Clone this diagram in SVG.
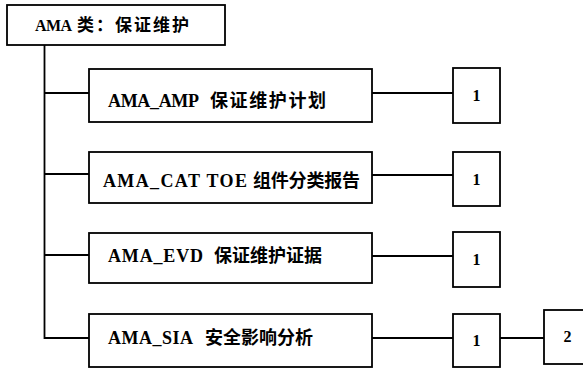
<svg xmlns="http://www.w3.org/2000/svg" width="583" height="369" viewBox="0 0 583 369">
<style>
.box{fill:#fff;stroke:#000;stroke-width:1.8}
.ln{fill:none;stroke:#000;stroke-width:1.8}
.l{font-family:"Liberation Serif",serif;font-weight:bold;font-size:18px;fill:#000}
.c{font-family:"Noto Sans CJK SC",sans-serif;font-weight:bold;font-size:18px;fill:#000}
.lt{font-family:"Liberation Serif",serif;font-weight:bold;font-size:16px;fill:#000}
.ct{font-family:"Noto Sans CJK SC",sans-serif;font-weight:bold;font-size:17px;fill:#000}
.n{font-family:"Liberation Serif",serif;font-weight:bold;font-size:16px;fill:#000;text-anchor:middle}
</style>
<rect width="583" height="369" fill="#fff"/>
<g id="connectors">
<polyline class="ln" points="44.5,45 44.5,338 89,338"/>
<line class="ln" x1="44.5" y1="93" x2="89" y2="93"/>
<line class="ln" x1="44.5" y1="174" x2="89" y2="174"/>
<line class="ln" x1="44.5" y1="255" x2="89" y2="255"/>
<line class="ln" x1="372" y1="93" x2="453" y2="93"/>
<line class="ln" x1="372" y1="175" x2="453" y2="175"/>
<line class="ln" x1="372" y1="256" x2="453" y2="256"/>
<line class="ln" x1="372" y1="338" x2="453" y2="338"/>
<line class="ln" x1="500" y1="338" x2="544" y2="338"/>
</g>
<g id="root">
<rect class="box" x="7" y="5" width="218" height="40"/>
<text class="lt" x="35" y="31" textLength="37">AMA</text>
<text class="ct" x="77" y="31" textLength="112">类：保证维护</text>
</g>
<g id="amp">
<rect class="box" x="89" y="69" width="283" height="53"/>
<text class="l" x="108" y="107" textLength="91">AMA_AMP</text>
<text class="c" x="210" y="107" textLength="116">保证维护计划</text>
</g>
<g id="cat">
<rect class="box" x="89" y="152" width="283" height="51"/>
<text class="l" x="103" y="187" textLength="144">AMA_CAT TOE</text>
<text class="c" x="253" y="187" textLength="107">组件分类报告</text>
</g>
<g id="evd">
<rect class="box" x="89" y="233" width="283" height="50"/>
<text class="l" x="108" y="262" textLength="95">AMA_EVD</text>
<text class="c" x="214" y="262" textLength="108">保证维护证据</text>
</g>
<g id="sia">
<rect class="box" x="89" y="314" width="283" height="53"/>
<text class="l" x="108" y="344" textLength="85">AMA_SIA</text>
<text class="c" x="205" y="344" textLength="108">安全影响分析</text>
</g>
<g id="n1a">
<rect class="box" x="453" y="68" width="47" height="55"/>
<text class="n" x="476.5" y="101">1</text>
</g>
<g id="n1b">
<rect class="box" x="453" y="152" width="47" height="54"/>
<text class="n" x="476.5" y="185">1</text>
</g>
<g id="n1c">
<rect class="box" x="453" y="232" width="47" height="55"/>
<text class="n" x="476.5" y="265">1</text>
</g>
<g id="n1d">
<rect class="box" x="453" y="314" width="47" height="53"/>
<text class="n" x="476.5" y="346">1</text>
</g>
<g id="n2">
<rect class="box" x="544" y="310" width="45" height="54"/>
<text class="n" x="567.5" y="342">2</text>
</g>
</svg>
